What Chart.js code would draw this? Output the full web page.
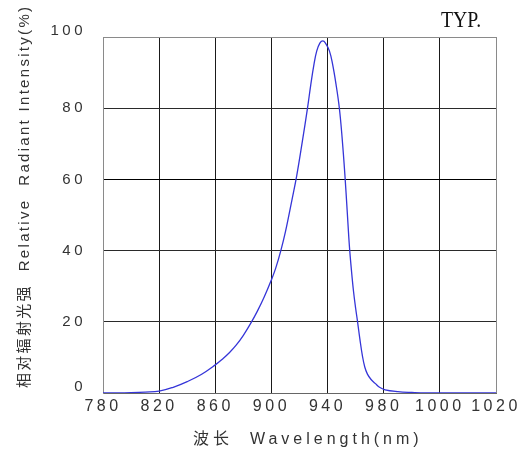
<!doctype html>
<html lang="zh">
<head>
<meta charset="UTF-8">
<title>Relative Radiant Intensity vs Wavelength</title>
<script src="https://cdn.jsdelivr.net/npm/chart.js@4.4.0/dist/chart.umd.min.js"></script>
<style>
  html, body { margin: 0; padding: 0; background: #fff; }
  #wrap { width: 530px; height: 461px; }
</style>
</head>
<body>
<div id="wrap"><canvas id="spectrum" width="530" height="461"></canvas></div>
<script>
// axis units: grid is uniform, last two columns are labelled 1000 / 1020
const wavelengths = [780, 790, 800, 810, 820, 830, 840, 850, 860, 865, 870, 875, 880, 885, 890, 895, 900, 903, 906.7, 910, 914.6, 918, 922, 925.7, 928, 930.4, 932.3, 934.5, 936.6, 938.5, 941.3, 943.5, 946.1, 948.4, 950.3, 952.3, 954, 955.6, 957, 958.5, 960, 961.3, 963, 964.8, 966.5, 968.4, 971, 973.9, 977, 981, 990, 1000, 1010, 1060];
const intensity   = [0, 0.02, 0.1, 0.25, 0.5, 1.6, 3.2, 5.2, 7.9, 9.5, 11.3, 13.5, 16.2, 19.4, 23.0, 27.1, 31.8, 35, 40, 45.3, 54.2, 61, 70.6, 80, 86.5, 92.5, 96.1, 98.3, 98.9, 98.3, 96.1, 92.5, 86.5, 80, 72, 61.5, 51, 41, 34.5, 28.5, 23.8, 20.2, 15.2, 10.5, 7.3, 5.3, 3.8, 2.7, 1.6, 0.9, 0.4, 0.15, 0, 0];
const xTickValues = [780, 820, 860, 900, 940, 980, 1020, 1060];
const xTickLabels = ['780', '820', '860', '900', '940', '980', '1000', '1020'];
const yTickLabels = ['0', '20', '40', '60', '80', '100'];

const points = wavelengths.map((w, i) => ({ x: w, y: intensity[i] }));

const titlesPlugin = {
    id: 'titles',
    beforeDraw(chart) {
        chart.ctx.letterSpacing = '3.5px';
    },
    afterDraw(chart) {
        const ctx = chart.ctx;
        ctx.save();
        ctx.fillStyle = '#333';
        ctx.textBaseline = 'middle';
        ctx.textAlign = 'left';

        // y axis title, rotated
        ctx.save();
        ctx.translate(25, 388);
        ctx.rotate(-Math.PI / 2);
        ctx.font = '15px "Liberation Sans", "Noto Sans CJK SC", sans-serif';
        ctx.letterSpacing = '2.3px';
        ctx.fillText('相对辐射光强  Relative  Radiant Intensity(%)', 0, 0);
        ctx.restore();

        // x axis title
        ctx.font = '16px "Liberation Sans", "Noto Sans CJK SC", sans-serif';
        ctx.letterSpacing = '4px';
        ctx.fillText('波长  Wavelength(nm)', 193, 440);

        // TYP.
        ctx.save();
        ctx.fillStyle = '#111';
        ctx.font = '23px "Liberation Serif", serif';
        ctx.letterSpacing = '0px';
        ctx.textAlign = 'left';
        ctx.textBaseline = 'alphabetic';
        ctx.translate(441, 27);
        ctx.scale(0.86, 1);
        ctx.fillText('TYP.', 0, 0);
        ctx.restore();
        ctx.restore();
    }
};

const ctx = document.getElementById('spectrum').getContext('2d');
const spectrumChart = new Chart(ctx, {
    type: 'line',
    data: {
        datasets: [{
            data: points,
            borderColor: '#3535d8',
            borderWidth: 1.3,
            pointRadius: 0,
            fill: false,
            tension: 0.4
        }]
    },
    options: {
        responsive: false,
        animation: false,
        layout: { padding: { top: 37, right: 34, left: 0, bottom: 0 } },
        plugins: {
            legend: { display: false },
            tooltip: { enabled: false }
        },
        scales: {
            x: {
                type: 'linear',
                min: 780,
                max: 1060,
                afterFit(scale) { scale.height = 68; },
                afterBuildTicks(scale) {
                    scale.ticks = xTickValues.map(v => ({ value: v }));
                },
                ticks: {
                    padding: 4,
                    color: '#333',
                    font: { family: '"Liberation Sans", Arial, sans-serif', size: 16 },
                    maxRotation: 0,
                    autoSkip: false,
                    callback: (v, i) => xTickLabels[i]
                },
                grid: {
                    drawTicks: false,
                    lineWidth: 1,
                    color: c => (c.tick && (c.tick.value === 780 || c.tick.value === 1060)) ? '#8a8a8a' : '#1a1a1a'
                },
                border: { color: '#666', width: 1 }
            },
            y: {
                min: 0,
                max: 100,
                afterFit(scale) { scale.width = 103; },
                ticks: {
                    stepSize: 20,
                    padding: 17,
                    color: '#333',
                    font: { family: '"Liberation Sans", Arial, sans-serif', size: 15, lineHeight: 0.85 },
                    // end labels sit a little above their grid line
                    callback: (v, i) => (v === 0 || v === 100) ? [yTickLabels[i], ''] : yTickLabels[i]
                },
                grid: {
                    drawTicks: false,
                    lineWidth: 1,
                    color: c => {
                        if (!c.tick) return '#222';
                        if (c.tick.value === 0 || c.tick.value === 100) return '#8a8a8a';
                        return c.tick.value === 60 ? '#000' : '#2a2a2a';
                    }
                },
                border: { color: '#8a8a8a', width: 1 }
            }
        }
    },
    plugins: [titlesPlugin]
});
</script>
</body>
</html>
